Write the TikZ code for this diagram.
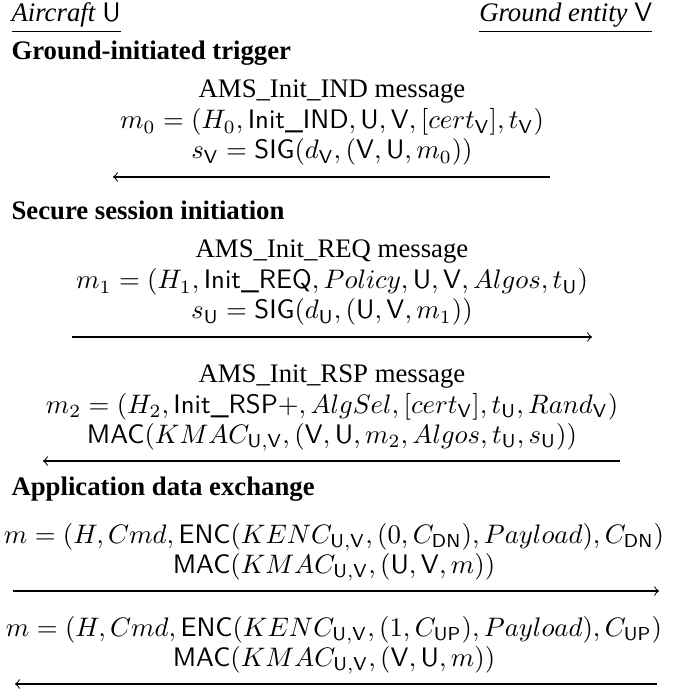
\documentclass[tikz,border=0pt]{standalone}
\usepackage{amsmath}
\usepackage[no-math]{fontspec}
\setmainfont{Liberation Serif}
\newcommand\sU{\mathsf{U}}
\newcommand\sV{\mathsf{V}}
\begin{document}
\begin{tikzpicture}[x=0.3739pt,y=-0.3739pt,
  txt/.style={inner sep=0pt,anchor=base},
  lft/.style={inner sep=0pt,anchor=base west},
  rgt/.style={inner sep=0pt,anchor=base east},
  msg/.style={-to,line width=0.4pt}]
\useasboundingbox (0,0) rectangle (674,692);
% participants
\node[lft] (ac) at (11,22) {\underline{\textit{Aircraft} $\sU$}};
\node[rgt] (ge) at (653,22) {\underline{\textit{Ground entity} $\sV$}};
% block 1
\node[lft] (h1) at (11,60) {\textbf{Ground-initiated trigger}};
\node[txt] (b1a) at (332,98) {AMS\_Init\_IND message};
\node[txt] (b1b) at (332,129) {$m_0 = (H_0, \textsf{Init\_IND}, \sU, \sV, [cert_{\sV}], t_{\sV})$};
\node[txt] (b1c) at (332,159) {$s_{\sV} = \mathsf{SIG}(d_{\sV}, (\sV, \sU, m_0))$};
\coordinate (a1l) at (113,177);
\coordinate (a1r) at (550,177);
\draw[msg] (a1r) -- (a1l);
% block 2
\node[lft] (h2) at (11,220) {\textbf{Secure session initiation}};
\node[txt] (b2a) at (332,258) {AMS\_Init\_REQ message};
\node[txt] (b2b) at (332,289) {$m_1 = (H_1, \textsf{Init\_REQ}, Policy, \sU, \sV, Algos, t_{\sU})$};
\node[txt] (b2c) at (332,319) {$s_{\sU} = \mathsf{SIG}(d_{\sU}, (\sU, \sV, m_1))$};
\coordinate (a2l) at (72,337);
\coordinate (a2r) at (592,337);
\draw[msg] (a2l) -- (a2r);
% block 3
\node[txt] (b3a) at (332,382) {AMS\_Init\_RSP message};
\node[txt] (b3b) at (332,413) {$m_2 = (H_2, \textsf{Init\_RSP}+, AlgSel, [cert_{\sV}], t_{\sU}, Rand_{\sV})$};
\node[txt] (b3c) at (332,443) {$\mathsf{MAC}(KMAC_{\mathsf{U,V}}, (\sV, \sU, m_2, Algos, t_{\sU}, s_{\sU}))$};
\coordinate (a3l) at (43,461);
\coordinate (a3r) at (620,461);
\draw[msg] (a3r) -- (a3l);
% block 4
\node[lft] (h3) at (11,495) {\textbf{Application data exchange}};
\node[txt] (b4a) at (334,543) {$m = (H, Cmd, \mathsf{ENC}(KENC_{\mathsf{U,V}}, (0, C_{\mathsf{DN}}), Payload), C_{\mathsf{DN}})$};
\node[txt] (b4b) at (334,573) {$\mathsf{MAC}(KMAC_{\mathsf{U,V}}, (\sU, \sV, m))$};
\coordinate (a4l) at (13,591);
\coordinate (a4r) at (659,591);
\draw[msg] (a4l) -- (a4r);
% block 5
\node[txt] (b5a) at (334,636) {$m = (H, Cmd, \mathsf{ENC}(KENC_{\mathsf{U,V}}, (1, C_{\mathsf{UP}}), Payload), C_{\mathsf{UP}})$};
\node[txt] (b5b) at (334,666) {$\mathsf{MAC}(KMAC_{\mathsf{U,V}}, (\sV, \sU, m))$};
\coordinate (a5l) at (15,684);
\coordinate (a5r) at (657,684);
\draw[msg] (a5r) -- (a5l);
\end{tikzpicture}
\end{document}
